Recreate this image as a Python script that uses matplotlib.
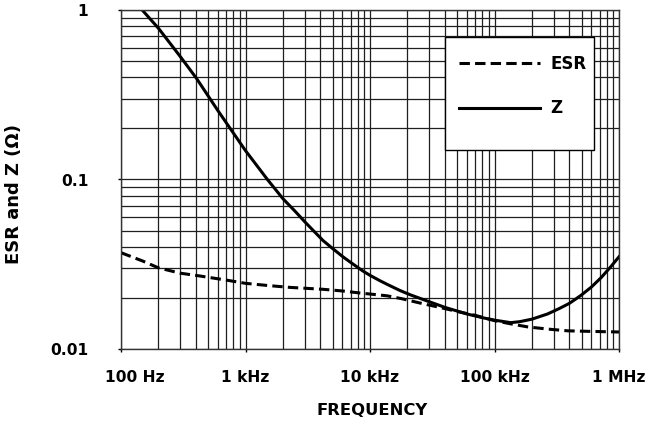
import matplotlib
matplotlib.use("Agg")
import matplotlib.pyplot as plt
import matplotlib.transforms as mtransforms
from matplotlib.patches import Rectangle

# impedance curve (Hz, ohm)
z_freq = [148, 200, 300, 403, 600, 1000, 1500, 2000, 2500, 3050, 4200, 5000,
          6000, 7000, 8800, 10000, 12000, 14000, 17500, 21000, 28800, 40000,
          60000, 80000, 100000, 135000, 160000, 200000, 267000, 330000,
          400000, 494000, 600000, 716000, 850000, 1000000]
z_ohm = [1.0, 0.78, 0.53, 0.396, 0.255, 0.148, 0.100, 0.077, 0.065, 0.0555,
         0.0436, 0.0392, 0.0352, 0.0324, 0.0288, 0.0272, 0.0253, 0.0239,
         0.0221, 0.0209, 0.0192, 0.0176, 0.0161, 0.0153, 0.0148, 0.0143,
         0.0145, 0.0150, 0.0161, 0.0173, 0.0186, 0.0207, 0.0232, 0.0263,
         0.0303, 0.0350]

# ESR curve
esr_freq = [100, 150, 200, 300, 425, 700, 1000, 1500, 2260, 4200, 6000, 8300,
            13700, 18000, 25000, 35000, 53000, 70000, 100000, 140000, 185000,
            270000, 388000, 600000, 1000000]
esr_ohm = [0.037, 0.033, 0.0301, 0.028, 0.027, 0.0255, 0.0244, 0.0237,
           0.0231, 0.0225, 0.022, 0.0214, 0.0206, 0.0198, 0.0187, 0.0177,
           0.0165, 0.0158, 0.0147, 0.0140, 0.0135, 0.0131, 0.0128, 0.0127,
           0.0126]

x_ticks = [1e2, 1e3, 1e4, 1e5, 1e6]
x_labels = ["100 Hz", "1 kHz", "10 kHz", "100 kHz", "1 MHz"]
y_ticks = [0.01, 0.1, 1]
y_labels = ["0.01", "0.1", "1"]

plt.rcParams['font.family'] = ['DejaVu Sans']
plt.rcParams['font.weight'] = 'bold'

fig = plt.figure(figsize=(6.45, 4.23), dpi=100)
ax = fig.add_axes([121 / 645, 1 - 349 / 423, 498 / 645, 339 / 423])

ax.set_xscale('log')
ax.set_yscale('log')
ax.set_xlim(1e2, 1e6)
ax.set_ylim(0.01, 1)

ax.grid(True, which='both', color='0.12', lw=0.9, zorder=1)
ax.set_axisbelow(True)

ax.plot(esr_freq, esr_ohm, color='black', lw=2.2, ls=(0, (3.4, 1.7)),
        label='ESR', zorder=2)
ax.plot(z_freq, z_ohm, color='black', lw=2.2, label='Z', zorder=2)

ax.set_xticks(x_ticks)
ax.set_xticklabels(x_labels)
ax.set_yticks(y_ticks)
ax.set_yticklabels(y_labels)
ax.minorticks_on()
ax.tick_params(which='minor', length=0)
ax.tick_params(which='major', length=2.5, width=1, color='black')
ax.tick_params(axis='x', which='major', labelsize=11.2, pad=12.5)
ax.tick_params(axis='y', which='major', labelsize=11.2, pad=21)
for lab in ax.get_xticklabels() + ax.get_yticklabels():
    lab.set_fontweight('bold')
# first x label sits a bit right of its tick
first = ax.get_xticklabels()[0]
first.set_transform(first.get_transform() +
                    mtransforms.ScaledTranslation(14 / 100, 0, fig.dpi_scale_trans))

for sp in ax.spines.values():
    sp.set_color('0.2')
    sp.set_linewidth(1)

ax.set_xlabel('FREQUENCY', fontsize=11.8, fontweight='bold')
ax.xaxis.set_label_coords(0.505, -0.16)
ax.set_ylabel('ESR and Z (Ω)', fontsize=13, fontweight='bold')
ax.yaxis.set_label_coords(-0.197, 0.456)

# legend box
ax.add_patch(Rectangle((0.651, 0.587), 0.299, 0.333, transform=ax.transAxes,
                       facecolor='white', edgecolor='black', lw=1, zorder=3))
leg = ax.legend(loc='upper left', bbox_to_anchor=(0.678, 0.868), frameon=False,
                handlelength=4.9, handletextpad=0.6,
                labelspacing=1.6, borderpad=0, borderaxespad=0,
                prop={'weight': 'bold', 'size': 12})
leg.set_zorder(4)

fig.savefig('out.png', dpi=100)
